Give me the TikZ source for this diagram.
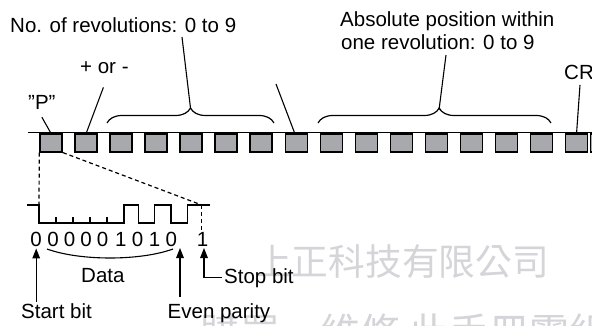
\documentclass[tikz,border=0pt]{standalone}
\usepackage{fontspec}
\setmainfont{Liberation Sans}
\newfontfamily\cjk{Noto Sans CJK TC}
\usetikzlibrary{arrows.meta,decorations.pathreplacing,calc}
\definecolor{cellgray}{RGB}{167,169,172}
\definecolor{wmgray}{RGB}{212,212,217}
\begin{document}
\begin{tikzpicture}[x=1pt,y=-1pt,
  lbl/.style={inner sep=0pt, anchor=base west, font=\fontsize{20.5}{24}\selectfont},
  dig/.style={inner sep=0pt, anchor=base, font=\fontsize{20.5}{24}\selectfont},
  cell/.style={draw, line width=1.6pt, fill=cellgray, minimum width=22pt, minimum height=17.5pt, inner sep=0pt, anchor=north west},
  wm/.style={inner sep=0pt, anchor=base west, text=wmgray},
  leader/.style={line width=1.1pt},
  bracestyle/.style={line width=1.2pt, decorate, decoration={brace, amplitude=15pt, aspect=#1}},
  dsh/.style={line width=1.2pt, dash pattern=on 4pt off 3pt},
  wave/.style={line width=1.5pt},
  arr/.style={line width=1.4pt, -{Triangle[width=7.5pt,length=10pt]}},
  thinline/.style={line width=1.1pt}
]
\useasboundingbox (0,0) rectangle (592,326);
\clip (0,0) rectangle (592,326);

% watermark
\node[wm, font=\cjk\fontsize{36.7}{40}\selectfont] (wm1) at (255,275) {上正科技有限公司};
\node[wm, font=\cjk\fontsize{40}{44}\selectfont] (wm2) at (200,347) {購買、維修 此手冊零組件};

% base line
\coordinate (bl0) at (28,133);
\coordinate (bl1) at (592,133);
\draw[line width=1pt] (bl0) -- (bl1);

% character cells
\foreach \k in {0,...,15} \node[cell] (sq\k) at ({39.3+35.03*\k},133.5) {};
\node[cell] (sq16) at (589.8,133.5) {};

% top labels
\node[lbl] (nrev) at (10,32.5) {No. of revolutions: 0 to 9};
\node[lbl] (pm) at (80,74) {+ or -};
\node[lbl] (pq) at (28,110) {"P"};
\node[lbl] (abs1) at (340,27) {Absolute position within};
\node[lbl] (abs2) at (341,50) {one revolution: 0 to 9};
\node[lbl] (cr) at (564,80) {CR};

% braces
\coordinate (b1a) at (107,123);
\coordinate (b1b) at (274,123);
\coordinate (b1tip) at (190.5,108);
\coordinate (b2a) at (318,123);
\coordinate (b2b) at (551,123);
\coordinate (b2tip) at (439,110);
\draw[bracestyle=0.5] (b1a) -- (b1b);
\draw[bracestyle=0.52] (b2a) -- (b2b);

% leaders
\coordinate (nrevend) at (182,37);
\coordinate (sepend) at (276,84);
\coordinate (absend) at (446,55);
\coordinate (crend) at (580,85);
\draw[leader] ($(pq.south)+(0,7)$) -- (sq0.north);
\draw[leader] ($(pm.south)+(-1,13)$) -- (sq1.north);
\draw[leader] (nrevend) -- (b1tip);
\draw[leader] (sepend) -- ($(sq7.north)+(-1.5,0)$);
\draw[leader] (absend) -- (b2tip);
\draw[leader] (crend) -- (sq15.north);

% waveform
\coordinate (wfA) at (39,205);
\coordinate (wfS) at (201.7,205);
\draw[wave] (27,205) -- (wfA) -- (39,223) -- (124,223) -- (124,205) -- (138.5,205) -- (138.5,223)
  -- (154.5,223) -- (154.5,205) -- (171,205) -- (171,223) -- (187.5,223) -- (187.5,205) -- (210,205);
\foreach \t in {56,73,90,107} \draw[line width=1.2pt] (\t,223) -- (\t,217);

% digits
\foreach \d/\x [count=\i from 0] in {0/36.2,0/53.1,0/69.6,0/86.1,0/102.6,1/120.7,0/137.6,1/154.5,0/171.4}
  \node[dig] (d\i) at (\x,246) {\d};
\node[dig] (d9) at (202.5,246) {1};

% dashed zoom lines
\draw[dsh] (sq0.south west) -- (wfA);
\draw[dsh] (sq0.south east) -- (wfS);
\draw[dsh] (wfS) -- ($(d9.north)+(-0.8,0)$);

% data arc
\coordinate (arcL) at (47,249);
\coordinate (arcR) at (173,249);
\draw[thinline] (arcL) .. controls (80,261) and (140,261) .. (arcR);
\node[lbl] (data) at (81,282) {Data};

% bottom labels
\node[lbl] (startlbl) at (21,318) {Start bit};
\node[lbl] (evenlbl) at (167.5,318) {Even parity};
\node[lbl] (stoplbl) at (224,283) {Stop bit};

% arrows
\coordinate (parT) at (180,246);
\coordinate (stopT) at (204,246);
\draw[arr, shorten >=2pt, shorten <=1pt] (startlbl.north -| d0.south) -- (d0.south);
\draw[arr, shorten >=2pt, shorten <=6pt] (evenlbl.north -| parT) -- (parT);
\draw[arr, shorten >=2pt] ($(stoplbl.west)+(-2,0)$) -- ($(stoplbl.west -| stopT)$) -- (stopT);
\end{tikzpicture}
\end{document}
